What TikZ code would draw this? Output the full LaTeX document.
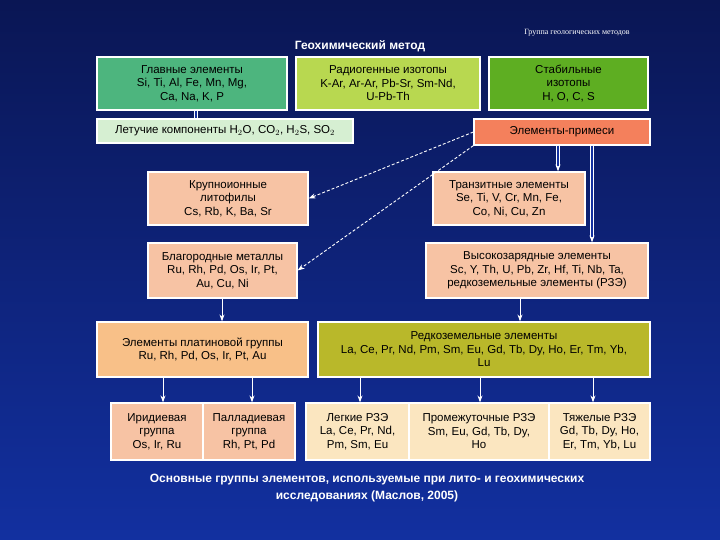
\documentclass[tikz,border=0pt]{standalone}
\usepackage{fontspec}
\setmainfont{Liberation Sans}
\newfontfamily\serifgrp{Liberation Serif}
\usetikzlibrary{arrows.meta}
\definecolor{bgA}{HTML}{0A1654}
\definecolor{bgB}{HTML}{1230A0}
\definecolor{cMain}{HTML}{4DB57E}
\definecolor{cRad}{HTML}{B8D850}
\definecolor{cStab}{HTML}{5EAE22}
\definecolor{cVol}{HTML}{D6EFD2}
\definecolor{cImp}{HTML}{F4805C}
\definecolor{cPeach}{HTML}{F7C3A4}
\definecolor{cPge}{HTML}{F8C088}
\definecolor{cRee}{HTML}{B9B82A}
\definecolor{cLight}{HTML}{FBE6C0}
\begin{document}
\begin{tikzpicture}[x=1pt,y=-1pt,
  bx/.style={draw=white,line width=1.2pt,font=\fontsize{11.5}{13.5}\selectfont,align=center,inner sep=0pt},
  ar/.style={white,line width=0.9pt,-{Stealth[length=7pt,width=5pt]}},
  dar/.style={white,line width=0.9pt,densely dashed,-{Stealth[length=7pt,width=5pt]}}]
\useasboundingbox (0,0) rectangle (720,540);
\shade[top color=bgA,bottom color=bgB] (0,0) rectangle (720,540);
\def\B#1#2#3#4#5#6#7{\fill[#6,draw=white,line width=1.2pt] (#2,#3) rectangle (#4,#5); \node[bx] (#1) at ({(#2+#4)/2},{(#3+#5)/2}) [minimum width={#4-#2},minimum height={#5-#3}] {#7};}
\B{main}{97}{57}{287}{110}{cMain}{Главные элементы\\Si, Ti, Al, Fe, Mn, Mg,\\Ca, Na, K, P}
\B{rad}{296}{57}{480}{110}{cRad}{Радиогенные изотопы\\K-Ar, Ar-Ar, Pb-Sr, Sm-Nd,\\U-Pb-Th}
\B{stab}{489}{57}{648}{110}{cStab}{Стабильные\\изотопы\\H, O, C, S}
\B{vol}{97}{119}{353}{143}{cVol}{Летучие компоненты H$_2$O, CO$_2$, H$_2$S, SO$_2$}
\B{imp}{474}{119}{650}{145}{cImp}{Элементы-примеси}
\B{lil}{148}{172}{308}{225}{cPeach}{Крупноионные\\литофилы\\Cs, Rb, K, Ba, Sr}
\B{tr}{433}{172}{585}{225}{cPeach}{Транзитные элементы\\Se, Ti, V, Cr, Mn, Fe,\\Co, Ni, Cu, Zn}
\B{nob}{148}{243}{297}{298}{cPeach}{Благородные металлы\\Ru, Rh, Pd, Os, Ir, Pt,\\Au, Cu, Ni}
\B{hfs}{426}{243}{648}{298}{cPeach}{Высокозарядные элементы\\Sc, Y, Th, U, Pb, Zr, Hf, Ti, Nb, Ta,\\редкоземельные элементы (РЗЭ)}
\B{pge}{97}{322}{308}{377}{cPge}{Элементы платиновой группы\\Ru, Rh, Pd, Os, Ir, Pt, Au}
\B{ree}{318}{322}{650}{377}{cRee}{Редкоземельные элементы\\La, Ce, Pr, Nd, Pm, Sm, Eu, Gd, Tb, Dy, Ho, Er, Tm, Yb,\\Lu}
\B{ir}{111}{403}{203}{460}{cPeach}{Иридиевая\\группа\\Os, Ir, Ru}
\B{pd}{203}{403}{295}{460}{cPeach}{Палладиевая\\группа\\Rh, Pt, Pd}
\B{lr}{306}{403}{409}{460}{cLight}{Легкие РЗЭ\\La, Ce, Pr, Nd,\\Pm, Sm, Eu}
\B{mr}{409}{403}{549}{460}{cLight}{Промежуточные РЗЭ\\Sm, Eu, Gd, Tb, Dy,\\Ho}
\B{hr}{549}{403}{650}{460}{cLight}{Тяжелые РЗЭ\\Gd, Tb, Dy, Ho,\\Er, Tm, Yb, Lu}
\node[white,font=\bfseries\fontsize{12}{14}\selectfont] (title) at (360,46) {Геохимический метод};
\node[white,font=\serifgrp\fontsize{8}{9}\selectfont] (grp) at (577,33) {Группа геологических методов};
\node[white,font=\bfseries\fontsize{12}{17}\selectfont,align=center] (cap) at (367,488) {Основные группы элементов, используемые при лито- и геохимических\\исследованиях (Маслов, 2005)};
\draw[white,line width=0.7pt,double=bgB,double distance=2pt] (main.south -| 196,0) -- (vol.north -| 196,0);
\draw[dar] (imp.west) -- (lil.east);
\draw[dar] (imp.south west) -- (nob.east);
\draw[ar,double=bgB,double distance=1.5pt] (imp.south -| 558,0) -- (tr.north -| 558,0);
\draw[ar,double=bgB,double distance=1.5pt] (imp.south -| 592,0) -- (hfs.north -| 592,0);
\draw[ar] (nob.south -| 222,0) -- (pge.north -| 222,0);
\draw[ar] (hfs.south -| 520,0) -- (ree.north -| 520,0);
\draw[ar] (pge.south -| 163,0) -- (ir.north -| 163,0);
\draw[ar] (pge.south -| 252,0) -- (pd.north -| 252,0);
\draw[ar] (ree.south -| 360,0) -- (lr.north -| 360,0);
\draw[ar] (ree.south -| 480,0) -- (mr.north -| 480,0);
\draw[ar] (ree.south -| 593,0) -- (hr.north -| 593,0);
\end{tikzpicture}
\end{document}
